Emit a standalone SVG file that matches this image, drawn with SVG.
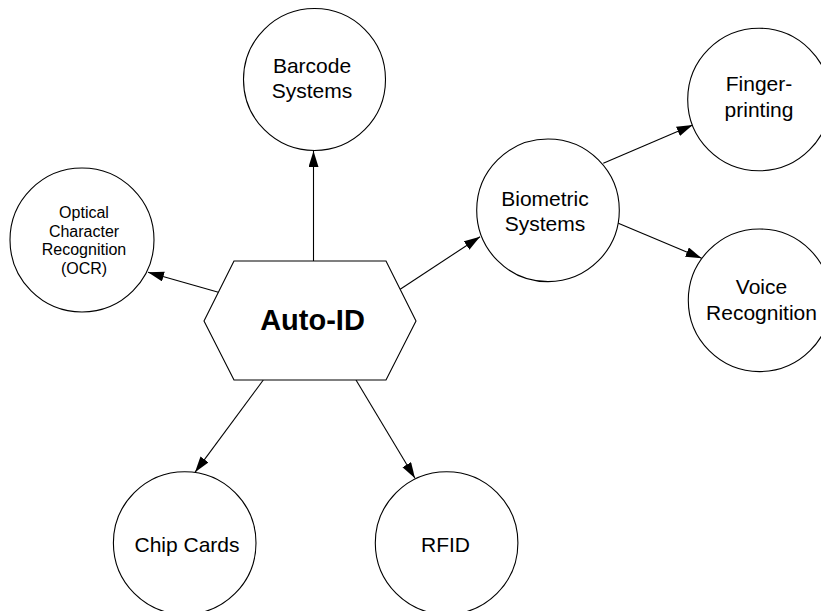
<svg xmlns="http://www.w3.org/2000/svg" width="821" height="611" viewBox="0 0 821 611">
<defs>
<style>
.node{fill:#fff;stroke:#000;stroke-width:1.1}
.t{font-family:"Liberation Sans",Arial,sans-serif;font-size:21px;fill:#000;text-anchor:middle}
.s{font-size:16px}
.b{font-size:29px;font-weight:bold}
.edge{stroke:#000;stroke-width:1.1;fill:none;marker-end:url(#arr)}
</style>
<marker id="arr" markerUnits="userSpaceOnUse" markerWidth="17" markerHeight="11" refX="16" refY="5" orient="auto">
<path d="M0,0 L16,5 L0,10 Z" fill="#000"/>
</marker>
</defs>
<rect width="821" height="611" fill="#fff"/>
<g id="connectors">
<line class="edge" x1="313.5" y1="261" x2="313.5" y2="151"/>
<line class="edge" x1="218.4" y1="292.3" x2="148" y2="272.2"/>
<line class="edge" x1="400.2" y1="289.3" x2="480" y2="236.7"/>
<line class="edge" x1="263.3" y1="380" x2="195" y2="472.3"/>
<line class="edge" x1="356" y1="380" x2="415" y2="478.3"/>
<line class="edge" x1="603.3" y1="163.3" x2="692.7" y2="125"/>
<line class="edge" x1="618.3" y1="223.3" x2="701.7" y2="258.3"/>
</g>
<g id="auto-id">
<polygon class="node" points="234,261 386,261 416,321 386,380 234,380 204,321"/>
<text class="t b" x="312.5" y="330">Auto-ID</text>
</g>
<g id="barcode">
<circle class="node" cx="314.5" cy="79.5" r="71"/>
<text class="t" x="312" y="73">Barcode</text>
<text class="t" x="312" y="98">Systems</text>
</g>
<g id="ocr">
<circle class="node" cx="82" cy="240" r="72"/>
<text class="t s" x="84" y="218">Optical</text>
<text class="t s" x="84" y="236.5">Character</text>
<text class="t s" x="84" y="255">Recognition</text>
<text class="t s" x="84" y="273.5">(OCR)</text>
</g>
<g id="biometric">
<circle class="node" cx="548" cy="210.3" r="71.3"/>
<text class="t" x="545" y="206">Biometric</text>
<text class="t" x="545" y="231">Systems</text>
</g>
<g id="fingerprinting">
<circle class="node" cx="759" cy="99.5" r="71.3"/>
<text class="t" x="759" y="91">Finger-</text>
<text class="t" x="759" y="116.5">printing</text>
</g>
<g id="voice">
<circle class="node" cx="759.6" cy="300.3" r="71.3"/>
<text class="t" x="761.5" y="294">Voice</text>
<text class="t" x="761.5" y="320">Recognition</text>
</g>
<g id="chip-cards">
<circle class="node" cx="184.7" cy="543" r="71.3"/>
<text class="t" x="187" y="551.7">Chip Cards</text>
</g>
<g id="rfid">
<circle class="node" cx="446.6" cy="543" r="71.3"/>
<text class="t" x="445.5" y="551.7">RFID</text>
</g>
</svg>
